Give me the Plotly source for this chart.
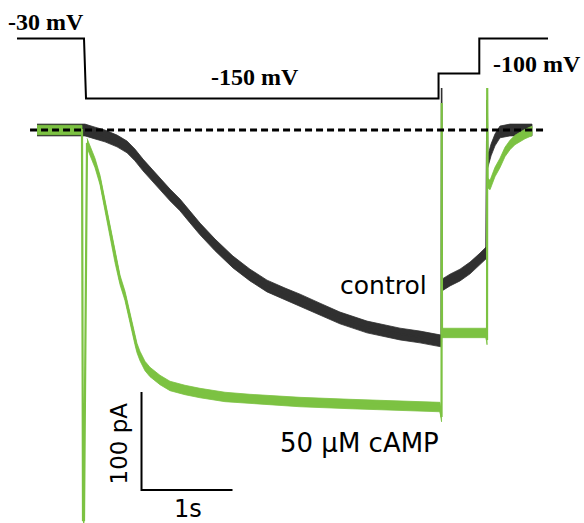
import plotly.graph_objects as go

# ---- recorded currents (time in s, current in pA) ----
# 50 uM cAMP
camp_t = [-0.516, -0.022, -0.011, 0.000, 0.033, 0.066, 0.121, 0.176, 0.231, 0.286,
          0.341, 0.396, 0.451, 0.505, 0.560, 0.582, 0.615, 0.670, 0.725, 0.835,
          0.945, 1.110, 1.275, 1.549, 1.824, 2.374, 2.923, 3.473, 3.912, 3.929,
          3.931, 3.934, 4.418, 4.429, 4.431, 4.436, 4.462, 4.516, 4.571, 4.626,
          4.681, 4.736, 4.791, 4.846, 4.923]
camp_i = [0.0, 0.0, -398.0, -398.0, -13.3, -20.4, -33.7, -51.0, -76.5, -104.1,
          -130.6, -153.1, -169.4, -191.8, -214.3, -222.4, -230.6, -240.8, -246.9, -255.1,
          -261.2, -265.3, -268.4, -272.4, -274.5, -277.6, -279.6, -281.6, -282.7, -292.9,
          27.6, -207.1, -207.1, -214.3, 42.9, -54.1, -56.1, -42.9, -33.7, -22.4,
          -15.3, -10.2, -7.1, -4.1, -1.0]

# control
ctrl_t = [-0.516, 0.011, 0.121, 0.231, 0.363, 0.473, 0.560, 0.648, 0.747, 0.835,
          0.945, 1.055, 1.165, 1.275, 1.440, 1.637, 1.824, 2.011, 2.209, 2.374,
          2.593, 2.813, 3.110, 3.473, 3.692, 3.926, 3.930, 3.934, 4.022, 4.132,
          4.242, 4.352, 4.418, 4.429, 4.436, 4.473, 4.516, 4.571, 4.681, 4.923]
ctrl_i = [0.0, 0.0, -3.1, -6.1, -11.2, -17.3, -25.5, -35.7, -45.9, -55.1,
          -66.3, -76.5, -88.8, -101.0, -117.3, -134.7, -148.0, -159.2, -167.3, -173.5,
          -182.7, -191.8, -201.0, -208.2, -211.2, -215.3, 42.9, -158.2, -153.1, -148.0,
          -140.8, -131.6, -125.5, 30.6, -32.7, -20.4, -10.2, -2.0, 0.0, 0.0]

# ---- voltage command protocol (time in s, mV) ----
cmd_t = [-0.736, 0.000, 0.022, 3.896, 3.896, 4.344, 4.344, 5.099]
cmd_v = [-30, -30, -150, -150, -100, -100, -30, -30]

# zero-current reference line
zero_t = [-0.593, 5.088]

# scale bars
bar_time_s = 1.0
bar_current_pa = 100.0

GREEN = "#7cc242"
DARK = "#303030"
W, H = 584, 523


def noisy_trace(fig, t, i, color, half_width, line_width):
    """Filled noise band along the slow parts, thin line through the fast transients."""
    runs, run = [], [0]
    for k in range(1, len(t)):
        dt = max(t[k] - t[k - 1], 1e-6)
        if abs(i[k] - i[k - 1]) / dt > 5000:
            runs.append(run)
            run = [k]
        else:
            run.append(k)
    runs.append(run)
    for r in runs:
        if len(r) < 2:
            continue
        xs = [t[k] for k in r]
        up = [i[k] + half_width for k in r]
        lo = [i[k] - half_width for k in r]
        fig.add_trace(go.Scatter(x=xs + xs[::-1], y=up + lo[::-1], mode="lines",
                                 fill="toself", fillcolor=color,
                                 line=dict(width=0.8, color=color),
                                 hoverinfo="skip", showlegend=False))
    fig.add_trace(go.Scatter(x=t, y=i, mode="lines",
                             line=dict(color=color, width=line_width),
                             showlegend=False))


fig = go.Figure()

# command voltage, on its own axis
fig.add_trace(go.Scatter(x=cmd_t, y=cmd_v, mode="lines", yaxis="y2",
                         line=dict(color="black", width=2, shape="linear"),
                         showlegend=False))

noisy_trace(fig, ctrl_t, ctrl_i, DARK, 6.0, 1.6)
noisy_trace(fig, camp_t, camp_i, GREEN, 4.8, 2.2)

# dashed zero line
fig.add_trace(go.Scatter(x=zero_t, y=[0, 0], mode="lines",
                         line=dict(color="black", width=3, dash="7px,4px"),
                         showlegend=False))

# scale bars
bar_t0, bar_i0 = 0.632, -367.3
fig.add_trace(go.Scatter(x=[bar_t0, bar_t0, bar_t0 + bar_time_s],
                         y=[bar_i0 + bar_current_pa, bar_i0, bar_i0],
                         mode="lines", line=dict(color="black", width=2),
                         showlegend=False))


def px(x, y):
    return x / W, 1 - y / H


serif = dict(family="Liberation Serif", size=24, color="black")
sans = dict(family="DejaVu Sans", color="black")
labels = [
    ("<b>-30 mV</b>", 45.5, 22, serif, 0),
    ("<b>-150 mV</b>", 255, 77, serif, 0),
    ("<b>-100 mV</b>", 536.5, 64, serif, 0),
    ("control", 383.5, 285, dict(sans, size=25), 0),
    ("50 µM cAMP", 359, 443, dict(sans, size=26), 0),
    ("1s", 187.5, 509, dict(sans, size=24), 0),
    ("100 pA", 118, 443.5, dict(sans, size=23), -90),
]
for text, x, y, font, ang in labels:
    ax, ay = px(x, y)
    fig.add_annotation(text=text, x=ax, y=ay, xref="paper", yref="paper",
                       xanchor="center", yanchor="middle", showarrow=False,
                       font=font, textangle=ang)

fig.update_layout(
    width=W, height=H,
    margin=dict(l=0, r=0, t=0, b=0),
    paper_bgcolor="white", plot_bgcolor="white",
    xaxis=dict(range=[-84 / 91, 500 / 91], visible=False, fixedrange=True),
    yaxis=dict(range=[-401.02, 132.65], visible=False, fixedrange=True),
    yaxis2=dict(range=[-999, 47], overlaying="y", visible=False, fixedrange=True),
    showlegend=False,
)

fig.write_html("out.html")
